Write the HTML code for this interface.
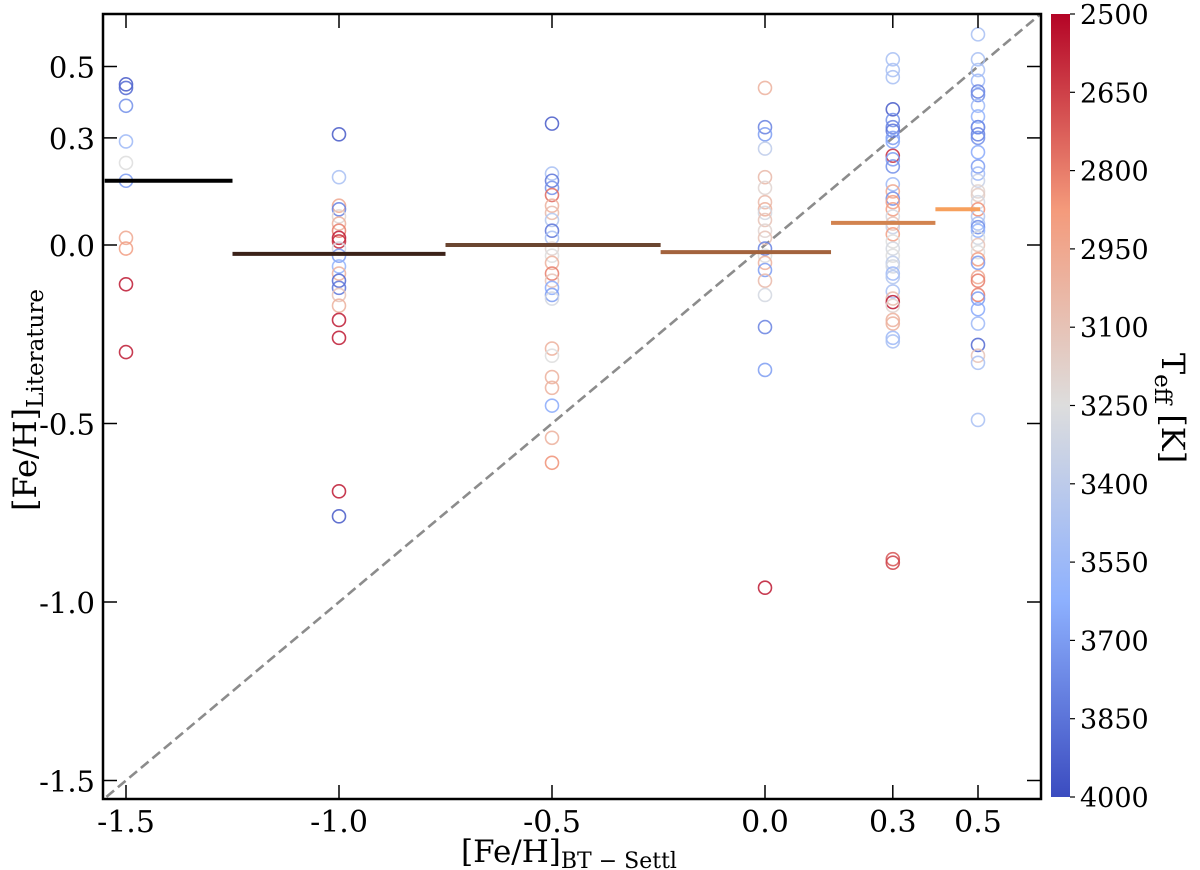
<!DOCTYPE html>
<html><head><meta charset="utf-8"><style>
html,body{margin:0;padding:0;background:#fff;}
svg{display:block;font-family:"DejaVu Serif","Liberation Serif",serif;}
</style></head><body>
<svg id="chart" width="1200" height="870" viewBox="0 0 1200 870" xmlns="http://www.w3.org/2000/svg">
<defs>
<linearGradient id="cbgrad" x1="0" y1="0" x2="0" y2="1">
<stop offset="0" stop-color="#b40426"/>
<stop offset="0.25" stop-color="#f49a7b"/>
<stop offset="0.5" stop-color="#dddddd"/>
<stop offset="0.75" stop-color="#8db0fe"/>
<stop offset="1" stop-color="#3b4cc0"/>
</linearGradient>
</defs>
<g id="plot"></g>
</svg>
<script>
// ---- data ----
const xCats = [-1.5, -1.0, -0.5, 0.0, 0.3, 0.5];
const xTickLabels = ["-1.5","-1.0","-0.5","0.0","0.3","0.5"];
const yTicks = [0.5, 0.3, 0.0, -0.5, -1.0, -1.5];
const yTickLabels = ["0.5","0.3","0.0","-0.5","-1.0","-1.5"];
const cbTicks = [2500,2650,2800,2950,3100,3250,3400,3550,3700,3850,4000];
const colM15Y = [0.45,0.44,0.39,0.29,0.23,0.18,0.02,-0.01,-0.11,-0.30];
const colM15T = [3950,3900,3750,3550,3250,3700,2950,2900,2550,2550];
const colM10Y = [0.31,0.19,0.11,0.10,0.08,0.06,0.04,0.02,0.01,-0.01,-0.03,-0.06,-0.08,-0.10,-0.12,-0.14,-0.17,-0.21,-0.26,-0.69,-0.76];
const colM10T = [3950,3500,2950,3800,3200,3000,2800,2550,2600,3300,3700,3600,3000,3900,3850,3100,3000,2550,2550,2550,3950];
const colM05Y = [0.34,0.20,0.18,0.16,0.14,0.11,0.09,0.07,0.04,0.02,-0.01,-0.03,-0.05,-0.08,-0.10,-0.12,-0.14,-0.15,-0.29,-0.31,-0.37,-0.40,-0.45,-0.54,-0.61];
const colM05T = [3950,3500,3850,3750,2750,3000,3050,3450,3850,3500,3200,3250,3000,2800,3100,3650,3700,3300,3000,3250,3000,3000,3650,3000,2850];
const colP00Y = [0.44,0.33,0.31,0.27,0.19,0.16,0.12,0.10,0.09,0.07,0.04,0.02,-0.01,-0.03,-0.05,-0.07,-0.10,-0.14,-0.23,-0.35,-0.96];
const colP00T = [3000,3800,3700,3400,3050,3200,3050,3000,3300,3100,3200,3100,3800,3250,3000,3700,3050,3300,3800,3700,2550];
const colP03Y = [0.52,0.49,0.47,0.38,0.35,0.33,0.32,0.30,0.29,0.25,0.24,0.22,0.17,0.15,0.13,0.12,0.10,0.08,0.06,0.05,0.03,0.01,-0.01,-0.03,-0.05,-0.06,-0.08,-0.09,-0.13,-0.15,-0.16,-0.17,-0.21,-0.22,-0.26,-0.27,-0.88,-0.89];
const colP03T = [3500,3500,3500,3950,3750,3800,3850,3700,3650,2600,3700,3750,3550,2950,3750,2900,2900,3300,3100,3350,2900,3250,3300,3250,3400,3300,3550,3450,3500,3050,2550,3200,3000,3000,3550,3500,2700,2650];
const colP05Y = [0.59,0.52,0.49,0.46,0.43,0.42,0.39,0.36,0.33,0.33,0.31,0.30,0.26,0.22,0.20,0.18,0.15,0.14,0.12,0.10,0.08,0.06,0.05,0.04,0.02,0.00,-0.02,-0.04,-0.05,-0.09,-0.10,-0.14,-0.15,-0.18,-0.22,-0.28,-0.31,-0.33,-0.49];
const colP05T = [3500,3500,3500,3550,3800,3750,3550,3600,3800,3750,3800,3750,3650,3700,3550,3350,3200,3150,3300,2850,3450,3500,3750,3600,3300,3100,3250,2900,3700,2950,2800,2800,3700,3650,3550,3900,3100,3500,3500];
const binStart = [-1.55,-1.25,-0.75,-0.245,0.155,0.40];
const binEnd = [-1.25,-0.75,-0.245,0.155,0.40,0.505];
const binMedian = [0.18,-0.025,0.0,-0.02,0.062,0.10];
const binColors = ["#000000","#3b2219","#6b4631","#a3633d","#d2834f","#f7a05d"];

// ---- scales ----
const L=103,R=1041,T=14,B=799;
const X = v => 765 + 426*v;
const Y = v => 245 - 357*v;
const CB_T=14, CB_B=797;
const CBY = t => CB_T + (t-2500)/1500*(CB_B-CB_T);
const stops=[[0,[180,4,38]],[0.25,[244,154,123]],[0.5,[221,221,221]],[0.75,[141,176,254]],[1,[59,76,192]]];
function cmap(t){
  let f=Math.max(0,Math.min(1,(t-2500)/1500));
  for(let i=0;i<stops.length-1;i++){
    const [a,ca]=stops[i],[b,cb]=stops[i+1];
    if(f<=b){const k=(f-a)/(b-a);return 'rgb('+ca.map((c,j)=>Math.round(c+(cb[j]-c)*k)).join(',')+')';}
  }
  return 'rgb(59,76,192)';
}
const NS='http://www.w3.org/2000/svg';
const svg=document.getElementById('chart');
function mk(tag,attrs,parent){const e=document.createElementNS(NS,tag);for(const k in attrs)e.setAttribute(k,attrs[k]);(parent||svg).appendChild(e);return e;}

const defs=svg.querySelector('defs');
const cp=mk('clipPath',{id:'clip'},defs);mk('rect',{x:L,y:T,width:R-L,height:B-T},cp);
const g=mk('g',{'clip-path':'url(#clip)'});



const diag=mk('line',{x1:X(-1.6),y1:Y(-1.6),x2:X(0.7),y2:Y(0.7),stroke:'#8c8c8c','stroke-width':2.6,'stroke-dasharray':'10,5'},g);



const cols=[[colM15Y,colM15T],[colM10Y,colM10T],[colM05Y,colM05T],[colP00Y,colP00T],[colP03Y,colP03T],[colP05Y,colP05T]];
cols.forEach((c,i)=>{
  c[0].forEach((y,j)=>{
    const p=mk('circle',{cx:X(xCats[i]),cy:Y(y),r:6.5,fill:'none',stroke:cmap(c[1][j]),'stroke-width':1.6,'stroke-opacity':0.85},g);
    
    
  });
});
binMedian.forEach((m,i)=>{
  const l=mk('line',{x1:X(binStart[i]),y1:Y(m),x2:X(binEnd[i]),y2:Y(m),stroke:binColors[i],'stroke-width':4},g);
  
  
});

const fr=mk('rect',{x:L,y:T,width:R-L,height:B-T,fill:'none',stroke:'#000','stroke-width':2.5});



xCats.forEach((v,i)=>{
  const x=X(v);
  mk('line',{x1:x,y1:B,x2:x,y2:B-14,stroke:'#000','stroke-width':1.5});
  mk('line',{x1:x,y1:T,x2:x,y2:T+14,stroke:'#000','stroke-width':1.5});
  const t=mk('text',{x:x,y:B+33,'text-anchor':'middle','font-size':30,fill:'#000'});
  t.textContent=xTickLabels[i];
  
  
});
yTicks.forEach((v,i)=>{
  const y=Y(v);
  mk('line',{x1:L,y1:y,x2:L+14,y2:y,stroke:'#000','stroke-width':1.5});
  mk('line',{x1:R,y1:y,x2:R-14,y2:y,stroke:'#000','stroke-width':1.5});
  const t=mk('text',{x:L-8,y:y+11,'text-anchor':'end','font-size':29,fill:'#000'});
  t.textContent=yTickLabels[i];
  
  
});

const xt=mk('text',{x:569,y:862,'text-anchor':'middle','font-size':31,fill:'#000'});
xt.innerHTML='[Fe/H]<tspan font-size="22" dy="6">BT − Settl</tspan>';


const yt=mk('text',{x:0,y:0,'text-anchor':'middle','font-size':32,fill:'#000',transform:'translate(36,400) rotate(-90)'});
yt.innerHTML='[Fe/H]<tspan font-size="23" dy="7">Literature</tspan>';



const cb=mk('rect',{x:1051,y:CB_T,width:19,height:CB_B-CB_T,fill:'url(#cbgrad)'});


cbTicks.forEach(t=>{
  const y=CBY(t);
  mk('line',{x1:1070,y1:y,x2:1075,y2:y,stroke:'#000','stroke-width':1.2});
  const tx=mk('text',{x:1080,y:y+10,'font-size':27,fill:'#000'});
  tx.textContent=String(t);
  
  
});
const ct=mk('text',{x:0,y:0,'text-anchor':'middle','font-size':32,fill:'#000',transform:'translate(1162,408) rotate(90)'});
ct.innerHTML='T<tspan font-size="23" dy="7">eff</tspan><tspan dy="-7"> [K]</tspan>';


</script>
</body></html>
